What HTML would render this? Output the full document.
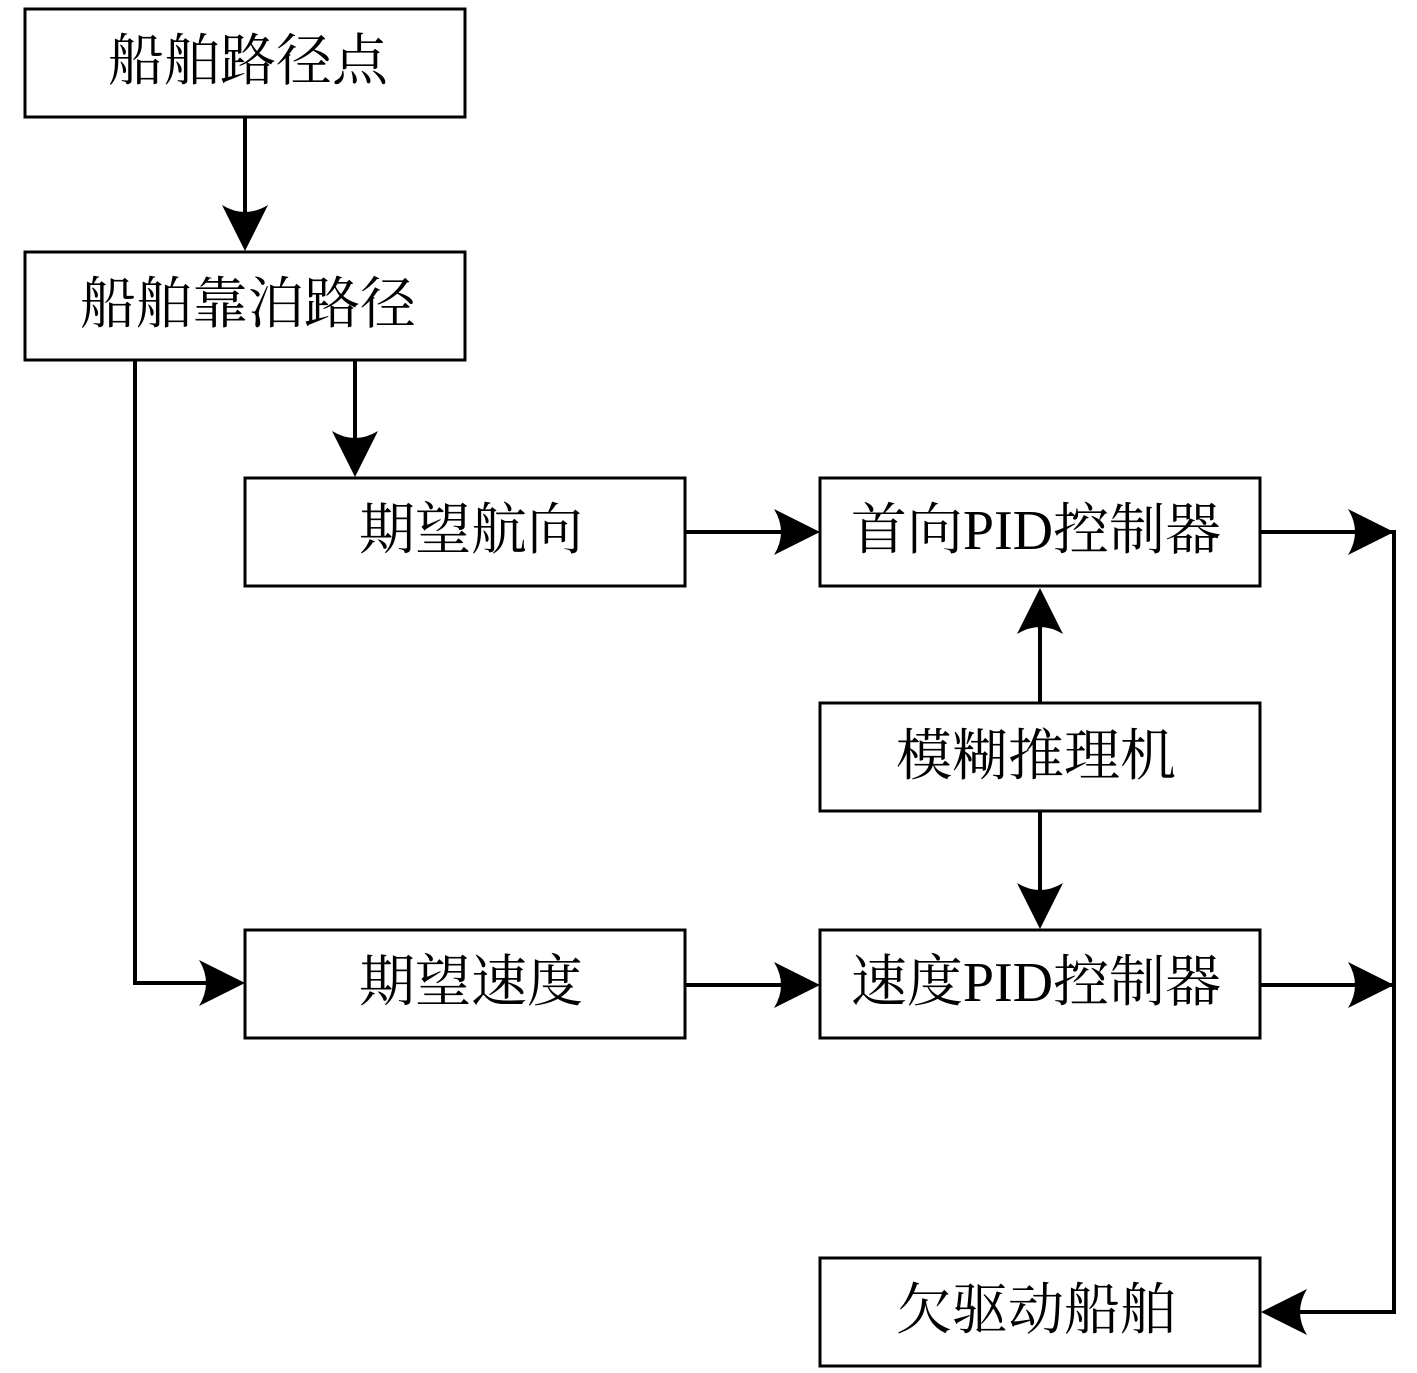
<!DOCTYPE html>
<html><head><meta charset="utf-8"><style>
html,body{margin:0;padding:0;background:#fff}
svg{display:block}
text{font-family:"Liberation Serif","Noto Serif CJK SC",serif;font-size:56px;fill:#000}
</style></head><body>
<svg width="1417" height="1373" viewBox="0 0 1417 1373">
<defs>
<path id="ar" d="M0,0 L-46,-23 Q-32,0 -46,23 Z" fill="#000"/>
</defs>
<g fill="none" stroke="#000" stroke-width="3">
<rect x="25" y="9" width="440" height="108"/>
<rect x="25" y="252" width="440" height="108"/>
<rect x="245" y="478" width="440" height="108"/>
<rect x="820" y="478" width="440" height="108"/>
<rect x="820" y="703" width="440" height="108"/>
<rect x="245" y="930" width="440" height="108"/>
<rect x="820" y="930" width="440" height="108"/>
<rect x="820" y="1258" width="440" height="108"/>
</g>
<g fill="none" stroke="#000" stroke-width="4">
<path d="M245,117 V240"/>
<path d="M355,360 V465"/>
<path d="M135,360 V983 H235"/>
<path d="M685,532 H810"/>
<path d="M1260,532 H1394 V1312 H1270"/>
<path d="M1040,703 V598"/>
<path d="M1040,811 V918"/>
<path d="M685,985 H810"/>
<path d="M1260,985 H1394"/>
</g>
<use href="#ar" transform="translate(245,251) rotate(90)"/>
<use href="#ar" transform="translate(355,477) rotate(90)"/>
<use href="#ar" transform="translate(245,983)"/>
<use href="#ar" transform="translate(820,532)"/>
<use href="#ar" transform="translate(1394,532)"/>
<use href="#ar" transform="translate(1040,588) rotate(-90)"/>
<use href="#ar" transform="translate(1040,929) rotate(90)"/>
<use href="#ar" transform="translate(820,985)"/>
<use href="#ar" transform="translate(1394,985)"/>
<use href="#ar" transform="translate(1261,1312) rotate(180)"/>
<g text-anchor="middle">
<text x="248" y="80">船舶路径点</text>
<text x="248" y="323">船舶靠泊路径</text>
<text x="471" y="549">期望航向</text>
<text x="1036" y="549">首向PID控制器</text>
<text x="1036" y="775">模糊推理机</text>
<text x="471" y="1001">期望速度</text>
<text x="1036" y="1001">速度PID控制器</text>
<text x="1036" y="1329">欠驱动船舶</text>
</g>
</svg>
</body></html>
